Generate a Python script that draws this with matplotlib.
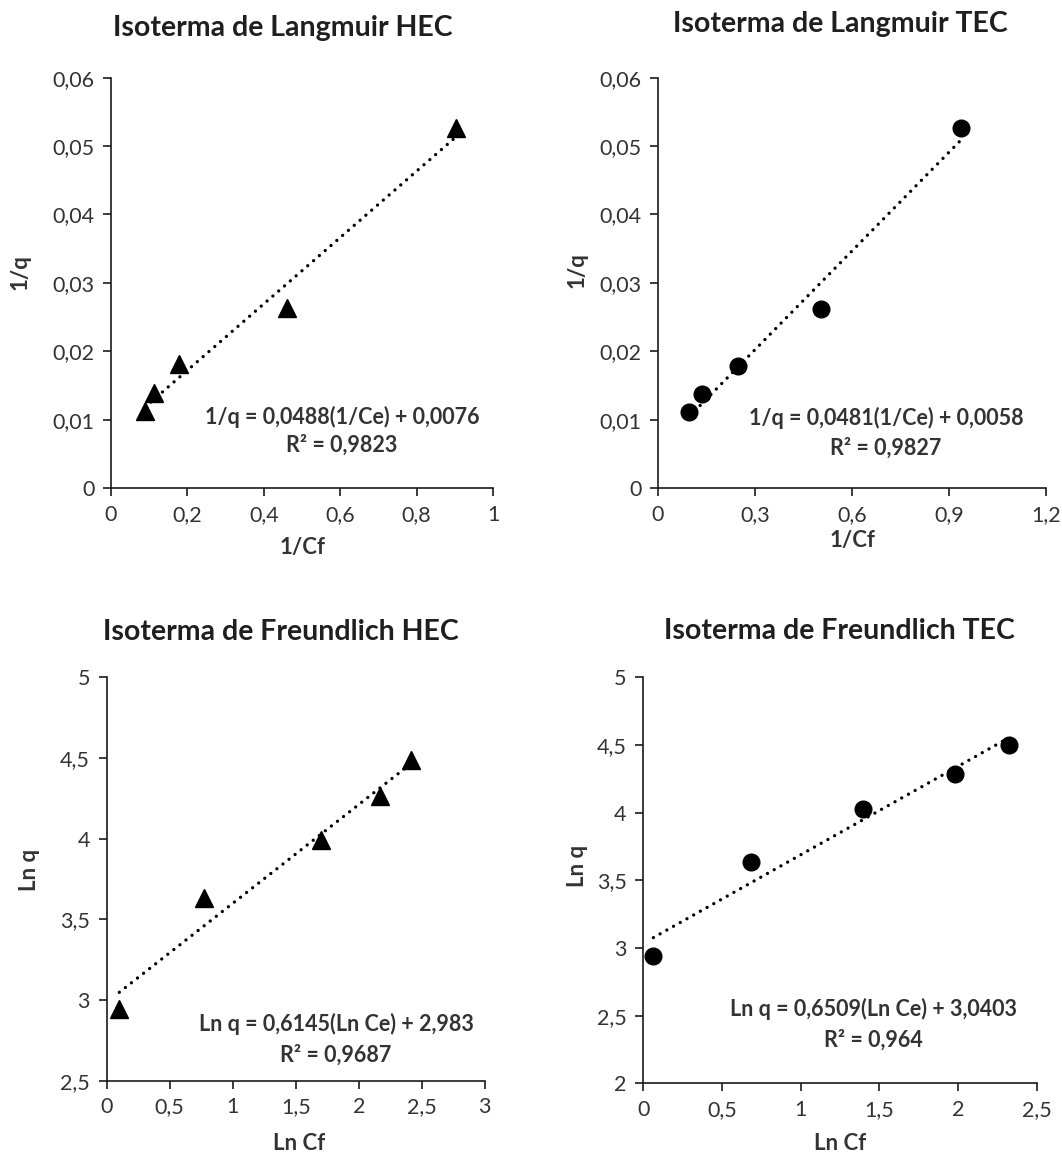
import numpy as np
import matplotlib
matplotlib.use("Agg")
import matplotlib.pyplot as plt
from matplotlib.ticker import FuncFormatter

plt.rcParams['font.family'] = ['Lato', 'DejaVu Sans']

# datos
lang_hec_x = [0.089, 0.113, 0.179, 0.462, 0.902]
lang_hec_y = [0.0112, 0.0139, 0.0181, 0.0263, 0.0527]
lang_tec_x = [0.097, 0.137, 0.248, 0.504, 0.939]
lang_tec_y = [0.0111, 0.0137, 0.0178, 0.0262, 0.0527]
freu_hec_x = [0.10, 0.775, 1.703, 2.171, 2.413]
freu_hec_y = [2.942, 3.634, 3.994, 4.262, 4.486]
freu_tec_x = [0.064, 0.684, 1.394, 1.981, 2.324]
freu_tec_y = [2.938, 3.637, 4.024, 4.289, 4.50]

titles = ['Isoterma de Langmuir HEC', 'Isoterma de Langmuir TEC',
          'Isoterma de Freundlich HEC', 'Isoterma de Freundlich TEC']
eqs = [('1/q = 0,0488(1/Ce) + 0,0076', 'R² = 0,9823'),
       ('1/q = 0,0481(1/Ce) + 0,0058', 'R² = 0,9827'),
       ('Ln q = 0,6145(Ln Ce) + 2,983', 'R² = 0,9687'),
       ('Ln q = 0,6509(Ln Ce) + 3,0403', 'R² = 0,964')]

W, H = 1062, 1156
fig = plt.figure(figsize=(W / 100, H / 100), dpi=100)


def rect(l, t, r, b):
    return [l / W, 1 - b / H, (r - l) / W, (b - t) / H]


def ftext(x, y, s, **kw):
    fig.text(x / W, 1 - y / H, s, **kw)


fmt = FuncFormatter(lambda v, p: f"{round(v, 6):g}".replace('.', ','))

panels = [
    dict(r=(111, 77.6, 493, 488), x=lang_hec_x, y=lang_hec_y, m='^', ms=13,
         xt=np.arange(0, 1.01, 0.2), yt=np.arange(0, 0.061, 0.01),
         xl='1/Cf', yl='1/q', title=(283, 36), xlab=(302, 548), ylab=(20, 272),
         eq=(342, 417, 445)),
    dict(r=(658, 77.6, 1045.7, 488), x=lang_tec_x, y=lang_tec_y, m='o', ms=12,
         xt=np.arange(0, 1.21, 0.3), yt=np.arange(0, 0.061, 0.01),
         xl='1/Cf', yl='1/q', title=(840, 32), xlab=(852, 540), ylab=(577, 270),
         eq=(886, 418, 448)),
    dict(r=(106.7, 677.3, 484.7, 1080.7), x=freu_hec_x, y=freu_hec_y, m='^', ms=13,
         xt=np.arange(0, 3.01, 0.5), yt=np.arange(2.5, 5.01, 0.5),
         xl='Ln Cf', yl='Ln q', title=(281, 640), xlab=(299, 1143), ylab=(30, 870),
         eq=(336, 1024, 1055)),
    dict(r=(643.3, 677.3, 1036.7, 1083.3), x=freu_tec_x, y=freu_tec_y, m='o', ms=12,
         xt=np.arange(0, 2.51, 0.5), yt=np.arange(2, 5.01, 0.5),
         xl='Ln Cf', yl='Ln q', title=(839, 639), xlab=(840, 1143), ylab=(577, 866),
         eq=(873, 1009, 1040)),
]

for i, p in enumerate(panels):
    ax = fig.add_axes(rect(*p['r']))
    x = np.array(p['x'])
    y = np.array(p['y'])
    # linea de tendencia
    k, b = np.polyfit(x, y, 1)
    xs = np.array([x.min(), x.max()])
    ax.plot(xs, k * xs + b, color='black', lw=2.4, linestyle=(0, (0.01, 2.3)),
            dash_capstyle='round', zorder=2)
    ax.plot(x, y, linestyle='none', marker=p['m'], ms=p['ms'], color='black', zorder=3)

    ax.set_xlim(p['xt'][0], p['xt'][-1])
    ax.set_ylim(p['yt'][0], p['yt'][-1])
    ax.set_xticks(p['xt'])
    ax.set_yticks(p['yt'])
    ax.xaxis.set_major_formatter(fmt)
    ax.yaxis.set_major_formatter(fmt)
    for s in ['top', 'right']:
        ax.spines[s].set_visible(False)
    for s in ['left', 'bottom']:
        ax.spines[s].set_color('#1a1a1a')
        ax.spines[s].set_linewidth(1.2)
    ax.tick_params(direction='out', length=6, width=1.2, color='#1a1a1a',
                   labelsize=15.5, labelcolor='#333333', pad=6)
    ax.patch.set_alpha(0)

    ftext(*p['title'], titles[i], ha='center', va='baseline', fontsize=20.5,
          fontweight='bold', color='#1f1f1f')
    ftext(*p['xlab'], p['xl'], ha='center', va='center', fontsize=16,
          fontweight='bold', color='#333333')
    ftext(*p['ylab'], p['yl'], ha='center', va='center', fontsize=16,
          fontweight='bold', color='#333333', rotation=90)
    ex, ey1, ey2 = p['eq']
    ftext(ex, ey1, eqs[i][0], ha='center', va='center', fontsize=15.5,
          fontweight='bold', color='#333333')
    ftext(ex, ey2, eqs[i][1], ha='center', va='center', fontsize=15.5,
          fontweight='bold', color='#333333')

fig.savefig('out.png', dpi=100, facecolor='white')
